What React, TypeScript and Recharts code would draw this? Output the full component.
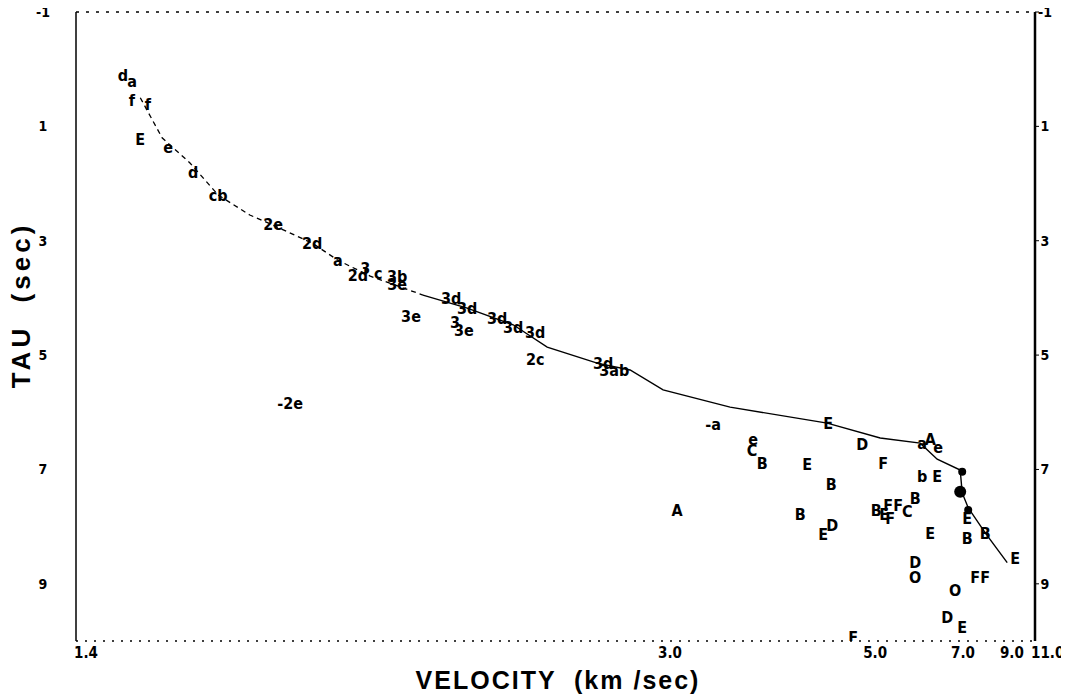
import React from 'react';
import { ComposedChart, Line, Scatter, XAxis, YAxis, ReferenceLine } from 'recharts';

// ---- data (velocity km/s, tau s) ----
const curveUpperV = [1.487, 1.519, 1.562, 1.608, 1.663, 1.704, 1.783, 1.838, 1.912, 2.046];
const curveUpperTau = [0.5, 1.2, 1.64, 2.2, 2.55, 2.72, 3.04, 3.34, 3.62, 3.95];
const curveLowerV = [2.046, 2.174, 2.325, 2.451, 2.663, 2.824, 3.006, 3.459, 4.425, 5.221, 6.041, 6.473, 7.167, 7.234, 7.444, 8.112, 9.177];
const curveLowerTau = [3.95, 4.18, 4.47, 4.86, 5.14, 5.26, 5.61, 5.91, 6.19, 6.45, 6.54, 6.82, 7.01, 7.41, 7.67, 8.11, 8.63];

const markText = ['d', 'a', 'f', 'f', 'E', 'e', 'd', 'cb', '2e', '2d', 'a', '2d', '3', 'c', '3b', '3e', '3d', '3d', '3e', '3', '3e', '3d', '3d', '3d', '2c', '3d', '3ab', '-2e', '-a', 'e', 'C', 'B', 'E', 'E', 'D', 'F', 'A', 'B', 'B', 'D', 'E', 'b', 'E', 'B', 'B', 'E', 'FF', 'C', 'F', 'E', 'E', 'B', 'B', 'D', 'O', 'FF', 'O', 'D', 'E', 'E', 'F', 'a', 'A', 'e'];
const markV = [1.4625, 1.4752, 1.475, 1.498, 1.487, 1.528, 1.567, 1.608, 1.706, 1.783, 1.838, 1.883, 1.9, 1.931, 1.978, 1.978, 2.126, 2.174, 2.014, 2.137, 2.164, 2.27, 2.325, 2.405, 2.405, 2.691, 2.744, 1.739, 3.332, 3.648, 3.639, 3.728, 4.184, 4.437, 4.92, 5.274, 3.091, 4.476, 4.106, 4.489, 4.374, 6.089, 6.473, 5.925, 5.151, 5.293, 5.462, 5.747, 5.404, 6.288, 7.409, 7.409, 8.112, 5.925, 5.925, 7.903, 7.004, 6.758, 7.234, 9.637, 4.782, 6.089, 6.288, 6.5];
const markTau = [0.1, 0.22, 0.54, 0.61, 1.22, 1.36, 1.8, 2.2, 2.72, 3.04, 3.34, 3.6, 3.48, 3.58, 3.63, 3.77, 4.0, 4.18, 4.33, 4.42, 4.56, 4.35, 4.51, 4.61, 5.08, 5.14, 5.26, 5.84, 6.22, 6.48, 6.66, 6.89, 6.92, 6.19, 6.57, 6.89, 7.71, 7.27, 7.79, 7.97, 8.14, 7.13, 7.13, 7.5, 7.71, 7.78, 7.62, 7.74, 7.85, 8.11, 7.85, 8.2, 8.11, 8.62, 8.88, 8.88, 9.11, 9.58, 9.77, 8.55, 9.93, 6.54, 6.48, 6.62];

const dotV = [7.234, 7.167, 7.444];
const dotTau = [7.04, 7.39, 7.71];
const dotR = [4, 6, 4];

const xTickVel = [1.4, 3, 5, 7, 9, 11];
const xTickLabels = ['1.4', '3.0', '5.0', '7.0', '9.0', '11.0'];
const yTicks = [-1, 1, 3, 5, 7, 9];

// ---- tables ----
const upperData = curveUpperV.map((v, i) => ({ s: 1 / v, tau: curveUpperTau[i] }));
const lowerData = curveLowerV.map((v, i) => ({ s: 1 / v, tau: curveLowerTau[i] }));
const markData = markV.map((v, i) => ({ s: 1 / v, tau: markTau[i], t: markText[i] }));
const dotData = dotV.map((v, i) => ({ s: 1 / v, tau: dotTau[i], r: dotR[i] }));
const xTicks = xTickVel.map((v) => 1 / v);

const W = 1069;
const H = 696;
const FONT = '"Liberation Sans Narrow", "DejaVu Sans Condensed", "Liberation Sans", sans-serif';
const TFONT = '"Liberation Sans", "DejaVu Sans", sans-serif';

const XTick = (p: any) => (
  <text x={p.x - (p.index === 0 ? 2 : 4)} y={658} textAnchor="start" fontFamily={FONT} fontWeight="bold" fontSize={15} fill="#000">
    {xTickLabels[p.index]}
  </text>
);

const YTickL = (p: any) => (
  <text x={43} y={p.y} dy="0.35em" textAnchor="middle" fontFamily={FONT} fontWeight="bold" fontSize={14} fill="#000">
    {p.payload.value}
  </text>
);
const YTickR = (p: any) => (
  <text x={1045} y={p.y} dy="0.35em" textAnchor="middle" fontFamily={FONT} fontWeight="bold" fontSize={14} fill="#000">
    {p.payload.value}
  </text>
);

const XTitle = () => (
  <text x={558} y={689} textAnchor="middle" fontFamily={TFONT} fontWeight="bold" fontSize={25} letterSpacing={2} fill="#000" xmlSpace="preserve" style={{ whiteSpace: 'pre' }}>
    {'VELOCITY  (km /sec)'}
  </text>
);
const YTitle = () => (
  <text x={30} y={305} transform="rotate(-90 30 305)" textAnchor="middle" fontFamily={TFONT} fontWeight="bold" fontSize={26} letterSpacing={4} fill="#000" xmlSpace="preserve" style={{ whiteSpace: 'pre' }}>
    {'TAU  (sec)'}
  </text>
);

const MarkShape = (p: any) => (
  <text x={p.cx} y={p.cy} dy="0.35em" textAnchor="middle" fontFamily={FONT} fontWeight="bold" fontSize={16} fill="#000">
    {p.payload.t}
  </text>
);
const DotShape = (p: any) => <circle cx={p.cx} cy={p.cy} r={p.payload.r} fill="#000" />;

export default function App() {
  return (
    <div style={{ position: 'relative', left: -8, top: -8, width: W, height: H, background: '#fff' }}>
      <ComposedChart width={W} height={H} margin={{ top: 12, right: 0, bottom: 0, left: 0 }}>
        <XAxis
          type="number"
          dataKey="s"
          domain={[1 / 11, 1 / 1.4]}
          reversed
          allowDataOverflow
          ticks={xTicks}
          interval={0}
          tick={XTick}
          tickLine={false}
          axisLine={{ stroke: '#000', strokeWidth: 1.5, strokeDasharray: '2 7' }}
          height={55}
          label={XTitle}
        />
        <YAxis
          yAxisId="L"
          orientation="left"
          type="number"
          dataKey="tau"
          domain={[-1, 10]}
          reversed
          allowDataOverflow
          ticks={yTicks}
          interval={0}
          tick={YTickL}
          tickLine={false}
          axisLine={{ stroke: '#000', strokeWidth: 1.5 }}
          width={76}
          label={YTitle}
        />
        <YAxis
          yAxisId="R"
          orientation="right"
          type="number"
          dataKey="tau"
          domain={[-1, 10]}
          reversed
          allowDataOverflow
          ticks={yTicks}
          interval={0}
          tick={YTickR}
          tickLine={{ stroke: '#000' }}
          tickSize={4}
          axisLine={{ stroke: '#000', strokeWidth: 2.5 }}
          width={34}
        />
        <ReferenceLine yAxisId="L" y={-1} stroke="#000" strokeWidth={1.5} strokeDasharray="3 7" />
        <Line yAxisId="L" data={upperData} dataKey="tau" type="linear" stroke="#000" strokeWidth={1.3} strokeDasharray="5 4" dot={false} isAnimationActive={false} />
        <Line yAxisId="L" data={lowerData} dataKey="tau" type="linear" stroke="#000" strokeWidth={1.4} dot={false} isAnimationActive={false} />
        <Scatter yAxisId="L" data={dotData} dataKey="tau" shape={DotShape} isAnimationActive={false} />
        <Scatter yAxisId="L" data={markData} dataKey="tau" shape={MarkShape} isAnimationActive={false} />
      </ComposedChart>
    </div>
  );
}
